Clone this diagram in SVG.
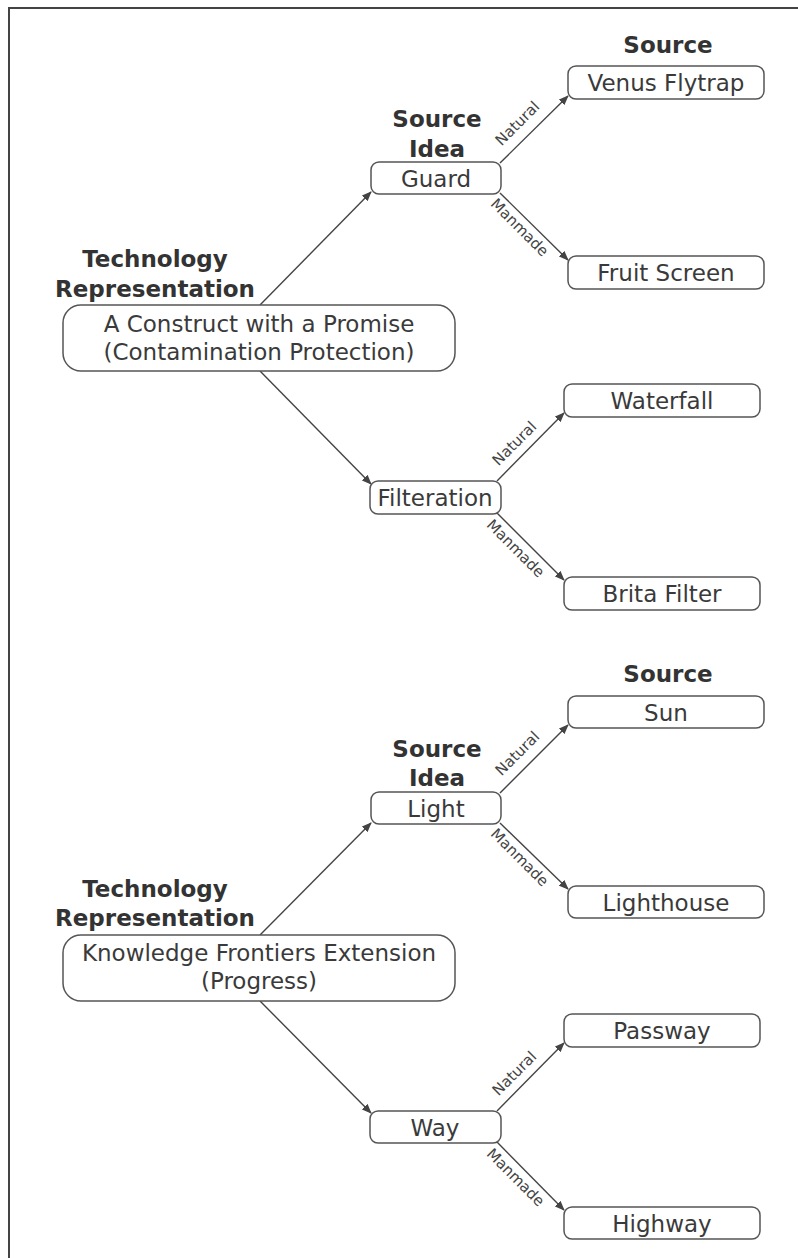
<svg xmlns="http://www.w3.org/2000/svg" width="798" height="1258" viewBox="0 0 798 1258">
<style>
.box{fill:#fff;stroke:#555;stroke-width:1.5}
.t{font-family:"DejaVu Sans",Verdana,sans-serif;font-size:23px;fill:#3a3a3a;text-anchor:middle}
.h{font-family:"DejaVu Sans",Verdana,sans-serif;font-size:23px;font-weight:bold;fill:#333;text-anchor:middle}
.l{font-family:"DejaVu Sans",Verdana,sans-serif;font-size:15px;fill:#444;text-anchor:middle}
.c{stroke:#444;stroke-width:1.4;fill:none;marker-end:url(#ah)}
</style>
<defs>
<marker id="ah" markerWidth="10" markerHeight="8" refX="9" refY="4" orient="auto" markerUnits="userSpaceOnUse">
<path d="M0,0 L10,4 L0,8 z" fill="#444"/>
</marker>
</defs>
<rect x="0" y="0" width="798" height="1258" fill="#fff"/>
<rect x="9" y="8" width="800" height="1270" fill="none" stroke="#444" stroke-width="2"/>

<g id="connectors">
<line class="c" x1="260" y1="305" x2="371" y2="192"/>
<line class="c" x1="260" y1="371" x2="371" y2="484"/>
<line class="c" x1="500" y1="163" x2="568" y2="96"/>
<line class="c" x1="500" y1="193" x2="568" y2="260"/>
<line class="c" x1="497" y1="481" x2="564" y2="413"/>
<line class="c" x1="497" y1="513" x2="564" y2="580"/>
<line class="c" x1="260" y1="935" x2="371" y2="823"/>
<line class="c" x1="260" y1="1001" x2="371" y2="1113"/>
<line class="c" x1="500" y1="793" x2="568" y2="725"/>
<line class="c" x1="500" y1="823" x2="568" y2="889"/>
<line class="c" x1="497" y1="1111" x2="564" y2="1043"/>
<line class="c" x1="497" y1="1142" x2="564" y2="1210"/>
<text class="l" transform="translate(521,127) rotate(-45)">Natural</text>
<text class="l" transform="translate(516,231) rotate(45)">Manmade</text>
<text class="l" transform="translate(518,447) rotate(-45)">Natural</text>
<text class="l" transform="translate(512,552) rotate(45)">Manmade</text>
<text class="l" transform="translate(521,757) rotate(-45)">Natural</text>
<text class="l" transform="translate(516,861) rotate(45)">Manmade</text>
<text class="l" transform="translate(518,1077) rotate(-45)">Natural</text>
<text class="l" transform="translate(512,1181) rotate(45)">Manmade</text>
</g>

<g id="tech1">
<text class="h" x="155" y="267">Technology</text>
<text class="h" x="155" y="297">Representation</text>
<rect class="box" x="63" y="305" width="392" height="66" rx="18"/>
<text class="t" x="259" y="332">A Construct with a Promise</text>
<text class="t" x="259" y="360">(Contamination Protection)</text>
</g>
<g id="guard">
<text class="h" x="437" y="127">Source</text>
<text class="h" x="437" y="157">Idea</text>
<rect class="box" x="371" y="162" width="130" height="32" rx="8"/>
<text class="t" x="436" y="187">Guard</text>
</g>
<g id="venus">
<text class="h" x="668" y="53">Source</text>
<rect class="box" x="568" y="66" width="196" height="33" rx="8"/>
<text class="t" x="666" y="91">Venus Flytrap</text>
</g>
<g id="fruit">
<rect class="box" x="568" y="256" width="196" height="33" rx="8"/>
<text class="t" x="666" y="281">Fruit Screen</text>
</g>
<g id="filteration">
<rect class="box" x="370" y="481" width="131" height="33" rx="8"/>
<text class="t" x="435" y="506">Filteration</text>
</g>
<g id="waterfall">
<rect class="box" x="564" y="384" width="196" height="33" rx="8"/>
<text class="t" x="662" y="409">Waterfall</text>
</g>
<g id="brita">
<rect class="box" x="564" y="577" width="196" height="33" rx="8"/>
<text class="t" x="662" y="602">Brita Filter</text>
</g>

<g id="tech2">
<text class="h" x="155" y="897">Technology</text>
<text class="h" x="155" y="926">Representation</text>
<rect class="box" x="63" y="935" width="392" height="66" rx="18"/>
<text class="t" x="259" y="961">Knowledge Frontiers Extension</text>
<text class="t" x="259" y="989">(Progress)</text>
</g>
<g id="light">
<text class="h" x="437" y="757">Source</text>
<text class="h" x="437" y="786">Idea</text>
<rect class="box" x="371" y="792" width="130" height="32" rx="8"/>
<text class="t" x="436" y="817">Light</text>
</g>
<g id="sun">
<text class="h" x="668" y="682">Source</text>
<rect class="box" x="568" y="696" width="196" height="32" rx="8"/>
<text class="t" x="666" y="721">Sun</text>
</g>
<g id="lighthouse">
<rect class="box" x="568" y="886" width="196" height="32" rx="8"/>
<text class="t" x="666" y="911">Lighthouse</text>
</g>
<g id="way">
<rect class="box" x="370" y="1111" width="131" height="32" rx="8"/>
<text class="t" x="435" y="1136">Way</text>
</g>
<g id="passway">
<rect class="box" x="564" y="1014" width="196" height="33" rx="8"/>
<text class="t" x="662" y="1039">Passway</text>
</g>
<g id="highway">
<rect class="box" x="564" y="1207" width="196" height="32" rx="8"/>
<text class="t" x="662" y="1232">Highway</text>
</g>
</svg>
